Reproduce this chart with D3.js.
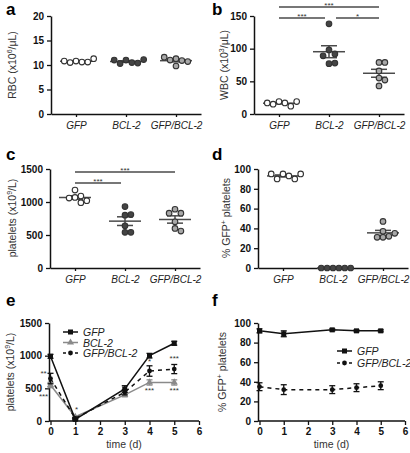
<!DOCTYPE html>
<html><head><meta charset="utf-8">
<script src="https://cdn.jsdelivr.net/npm/d3@7"></script>
<style>
body{margin:0;background:#fff;}
svg{display:block;font-family:"Liberation Sans",Arial,sans-serif;}
</style></head>
<body><svg id="c" width="410" height="453"></svg>
<script>
// ---------- DATA ----------
const groups = ["GFP","BCL-2","GFP/BCL-2"];
const rbc = [[10.8,10.6,10.5,10.6,10.8,11.3],[11.0,10.5,10.3,10.4,11.0,11.1],[11.3,10.9,11.0,9.8,10.7,11.6]];
const wbc = [[19,17,15,12,17,19],[138,98,92,89,77,78],[79,79,66,55,52,43]];
const plt = [[1180,1070,1090,1060,990,1020],[930,800,810,640,540,540],[890,830,830,700,600,560]];
const gfpPct = [[95,93,90,90,95,95],[0,0,0,0,0,0],[47,37,32,31,31,35]];
const rbcTicks = [0,5,10,15,20];
const wbcTicks = [0,50,100,150];
const pltTicks = [0,500,1000,1500];
const pctTicks = [0,20,40,60,80,100];
const days = [0,1,3,4,5];
const dayTicks = [0,1,2,3,4,5,6];
const ePltGFP = [990,25,490,1000,1190];
const ePltGFPerr = [30,15,50,35,30];
const ePltBCL = [550,65,400,590,590];
const ePltBCLerr = [40,15,30,40,40];
const ePltGB = [650,40,440,765,795];
const ePltGBerr = [80,15,40,80,70];
const fGFP = [92,89,93,92,92];
const fGFPerr = [2,3,1,1,1];
const fGB = [35,32,32,34,36];
const fGBerr = [4,5,4,4,4];
// significance annotations
const sigB = [{a:0,b:2,level:0,s:"***"},{a:0,b:1,level:1,s:"***"},{a:1,b:2,level:1,s:"*"}];
const sigC = [{a:0,b:2,level:0,s:"***"},{a:0,b:1,level:1,s:"***"}];
const eStars = [{t:-0.28,v:735,s:"**"},{t:-0.28,v:383,s:"***"},{t:1.05,v:180,s:"*"},{t:4,v:920,s:"*"},{t:4,v:470,s:"***"},{t:5,v:965,s:"***"},{t:5,v:470,s:"***"}];

const svg = d3.select("#c");
const DARK = "#4a4a4a";

function styleAxis(g){
  g.selectAll(".domain").attr("stroke","#111").attr("stroke-width",1.5);
  g.selectAll(".tick line").attr("stroke","#111").attr("stroke-width",1.3);
}

function yTitle(x, yc, parts){
  const t = svg.append("text").attr("transform",`translate(${x},${yc}) rotate(-90)`)
    .attr("text-anchor","middle").attr("font-size",10.5).attr("fill","#333");
  let shift = 0;
  parts.forEach(p=>{
    if(p.sup){ t.append("tspan").attr("font-size",7).attr("dy",-4).text(p.t); shift = 4; }
    else { t.append("tspan").attr("dy",shift).text(p.t); shift = 0; }
  });
}
function letter(x,y,s){ svg.append("text").attr("x",x).attr("y",y).attr("font-size",17).attr("font-weight","bold").text(s); }

function swarm(vals, y, r){
  const placed=[];
  return vals.map(v=>{
    const py=y(v); let off=0;
    for(let k=0;k<40;k++){
      const cand = k===0?0:(k%2? Math.ceil(k/2): -Math.ceil(k/2))*r*1.9;
      if(placed.every(p=>Math.hypot(p[0]-cand,p[1]-py)>=r*1.9)){off=cand;break;}
    }
    placed.push([off,py]); return off;
  });
}

function scatterPanel(o){
  const x = d3.scalePoint().domain(groups).range([o.x0,o.x0+150]).padding(0.5);
  const y = d3.scaleLinear().domain([0,o.max]).range([o.y0,o.y1]);
  const gy = svg.append("g").attr("transform",`translate(${o.x0},0)`)
    .call(d3.axisLeft(y).tickValues(o.ticks).tickFormat(d3.format("d")).tickSize(4).tickPadding(3).tickSizeOuter(0));
  gy.selectAll("text").attr("font-size",10).attr("font-weight","bold").attr("fill","#111").attr("font-family","Liberation Sans, Arial");
  styleAxis(gy);
  const gx = svg.append("g").attr("transform",`translate(0,${o.y0})`)
    .call(d3.axisBottom(x).tickSize(3).tickPadding(5).tickSizeOuter(0));
  gx.selectAll("text").attr("font-size",10).attr("font-style","italic").attr("fill","#222").attr("font-family","Liberation Sans, Arial");
  styleAxis(gx);
  const fills = ["#fff","#444","#a8a8a8"];
  o.data.forEach((vals,gi)=>{
    const cx = x(groups[gi]);
    const m = d3.mean(vals), sem = d3.deviation(vals)/Math.sqrt(vals.length);
    const gm = svg.append("g").attr("stroke",DARK).attr("stroke-width",1.5);
    gm.append("line").attr("x1",cx).attr("x2",cx).attr("y1",y(m-sem)).attr("y2",y(m+sem));
    gm.append("line").attr("x1",cx-8).attr("x2",cx+8).attr("y1",y(m-sem)).attr("y2",y(m-sem));
    gm.append("line").attr("x1",cx-8).attr("x2",cx+8).attr("y1",y(m+sem)).attr("y2",y(m+sem));
    gm.append("line").attr("x1",cx-16).attr("x2",cx+16).attr("y1",y(m)).attr("y2",y(m));
    const offs = swarm(vals,y,3.1);
    svg.append("g").selectAll("circle").data(vals).join("circle")
      .attr("cx",(d,i)=>cx+offs[i]).attr("cy",d=>y(d)).attr("r",2.8)
      .attr("fill",fills[gi]).attr("stroke","#333").attr("stroke-width",1.1);
  });
  (o.sig||[]).forEach(s=>{
    const ly = o.sigY[s.level];
    let xa = x(groups[s.a]), xb = x(groups[s.b]);
    if(s.level===1){ if(s.a===0) xb-=4; else xa+=7; }
    svg.append("line").attr("x1",xa).attr("x2",xb).attr("y1",ly).attr("y2",ly).attr("stroke",DARK).attr("stroke-width",1.5);
    svg.append("text").attr("x",(xa+xb)/2).attr("y",ly+0.5).attr("text-anchor","middle").attr("font-size",8).attr("fill","#333").text(s.s);
  });
  return {x,y};
}

// a
letter(6,15,"a");
scatterPanel({x0:51,y0:114,y1:16,max:20,ticks:rbcTicks,data:rbc});
yTitle(16,65,[{t:"RBC (x10"},{t:"6",sup:1},{t:"/μL)"}]);
// b
letter(212,15,"b");
scatterPanel({x0:254,y0:114,y1:16,max:150,ticks:wbcTicks,data:wbc,sig:sigB,sigY:[7,18]});
yTitle(228,65,[{t:"WBC (x10"},{t:"3",sup:1},{t:"/μL)"}]);
// c
letter(6,160,"c");
scatterPanel({x0:50,y0:268,y1:169,max:1500,ticks:pltTicks,data:plt,sig:sigC,sigY:[172,183]});
yTitle(16,218,[{t:"platelets (x10"},{t:"9",sup:1},{t:"/L)"}]);
// d
letter(212,160,"d");
scatterPanel({x0:258,y0:268,y1:169,max:100,ticks:pctTicks,data:gfpPct});
yTitle(230,218,[{t:"% GFP"},{t:"+",sup:1},{t:" platelets"}]);

// ---------- time panels ----------
function timeAxes(o){
  const x = d3.scaleLinear().domain([0,6]).range([o.x0+1.5,o.x1]);
  const y = d3.scaleLinear().domain([0,o.max]).range([o.y0,o.y1]);
  const gy = svg.append("g").attr("transform",`translate(${o.x0},0)`)
    .call(d3.axisLeft(y).tickValues(o.ticks).tickFormat(d3.format("d")).tickSize(4).tickPadding(3).tickSizeOuter(0));
  gy.selectAll("text").attr("font-size",10).attr("font-weight","bold").attr("fill","#111").attr("font-family","Liberation Sans, Arial");
  styleAxis(gy);
  const gx = svg.append("g").attr("transform",`translate(0,${o.y0})`)
    .call(d3.axisBottom(x).tickValues(dayTicks).tickFormat(d3.format("d")).tickSize(4).tickPadding(3).tickSizeOuter(0));
  gx.selectAll("text").attr("font-size",10).attr("font-weight","bold").attr("fill","#111").attr("font-family","Liberation Sans, Arial");
  styleAxis(gx);
  gx.select(".domain").attr("d",`M${o.x0},0H${o.x1}`);
  svg.append("text").attr("x",(o.x0+o.x1)/2).attr("y",o.y0+27).attr("text-anchor","middle").attr("font-size",10.5).attr("fill","#333").text("time (d)");
  return {x,y};
}
function marker(g, shape, cx, cy, color){
  if(shape==="sq") g.append("rect").attr("x",cx-2.5).attr("y",cy-2.5).attr("width",5).attr("height",5).attr("fill",color);
  else if(shape==="tri") g.append("path").attr("d",d3.symbol(d3.symbolTriangle,22)()).attr("transform",`translate(${cx},${cy})`).attr("fill",color);
  else g.append("circle").attr("cx",cx).attr("cy",cy).attr("r",2.4).attr("fill",color);
}
function series(sc, vals, errs, color, dash, shape){
  const line = d3.line().x((d,i)=>sc.x(days[i])).y(d=>sc.y(d));
  svg.append("path").datum(vals).attr("d",line).attr("fill","none").attr("stroke",color).attr("stroke-width",1.5).attr("stroke-dasharray",dash||null);
  const g = svg.append("g");
  vals.forEach((v,i)=>{
    const cx = sc.x(days[i]);
    const e = g.append("g").attr("stroke",color).attr("stroke-width",1.3);
    e.append("line").attr("x1",cx).attr("x2",cx).attr("y1",sc.y(v-errs[i])).attr("y2",sc.y(v+errs[i]));
    e.append("line").attr("x1",cx-3).attr("x2",cx+3).attr("y1",sc.y(v-errs[i])).attr("y2",sc.y(v-errs[i]));
    e.append("line").attr("x1",cx-3).attr("x2",cx+3).attr("y1",sc.y(v+errs[i])).attr("y2",sc.y(v+errs[i]));
    marker(g,shape,cx,sc.y(v),color);
  });
}
function legend(x,y,items){
  items.forEach((it,i)=>{
    const ly = y+i*it.dy;
    svg.append("line").attr("x1",x).attr("x2",x+15).attr("y1",ly).attr("y2",ly).attr("stroke",it.c).attr("stroke-width",1.5).attr("stroke-dasharray",it.dash||null);
    marker(svg,it.shape,x+7.5,ly,it.c);
    svg.append("text").attr("x",x+20).attr("y",ly+4).attr("font-size",10.5).attr("font-style","italic").attr("fill","#222").text(it.t);
  });
}

// e
letter(6,306,"e");
const se = timeAxes({x0:49,x1:199,y0:421,y1:323,max:1500,ticks:pltTicks});
yTitle(14,372,[{t:"platelets (x10"},{t:"9",sup:1},{t:"/L)"}]);
series(se,ePltBCL,ePltBCLerr,"#8a8a8a",null,"tri");
series(se,ePltGB,ePltGBerr,"#111","4,4","dot");
series(se,ePltGFP,ePltGFPerr,"#111",null,"sq");
legend(63,332,[{t:"GFP",c:"#111",shape:"sq",dy:10.5},{t:"BCL-2",c:"#8a8a8a",shape:"tri",dy:10.5},{t:"GFP/BCL-2",c:"#111",shape:"dot",dash:"3,3",dy:10.5}]);
eStars.forEach(s=>{
  svg.append("text").attr("x",se.x(s.t)).attr("y",se.y(s.v)+3).attr("text-anchor","middle").attr("font-size",8).attr("fill","#333").text(s.s);
});

// f
letter(212,306,"f");
const sf = timeAxes({x0:258,x1:405,y0:421,y1:323,max:100,ticks:pctTicks});
yTitle(226,372,[{t:"% GFP"},{t:"+",sup:1},{t:" platelets"}]);
series(sf,fGB,fGBerr,"#111","4,4","dot");
series(sf,fGFP,fGFPerr,"#111",null,"sq");
legend(337,351,[{t:"GFP",c:"#111",shape:"sq",dy:12},{t:"GFP/BCL-2",c:"#111",shape:"dot",dash:"3,3",dy:12}]);
</script></body></html>
